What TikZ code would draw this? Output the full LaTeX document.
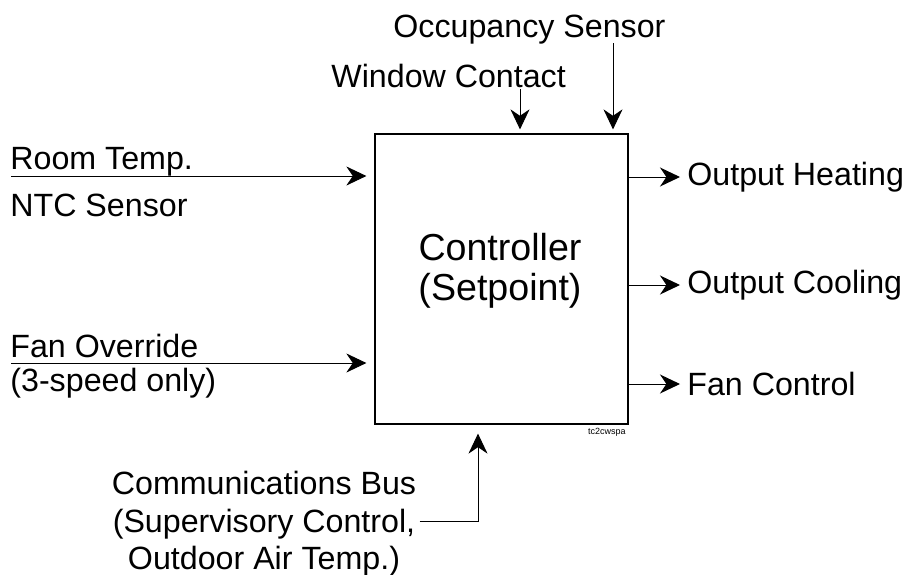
\documentclass[tikz,border=0pt]{standalone}
\usepackage{fontspec}
\setmainfont{Liberation Sans}
\usetikzlibrary{arrows.meta,positioning}

\begin{document}
\begin{tikzpicture}[x=0.5pt,y=-0.5pt,
  lbl/.style={inner sep=0pt,font=\fontsize{16.1}{18.75}\selectfont},
  sig/.style={line width=0.5pt,-{Stealth[length=10pt,width=9.5pt,inset=3.2pt]}}]
\useasboundingbox (0,0) rectangle (917,574);
% controller box
\node[draw,line width=0.6pt,minimum width=126.5pt,minimum height=145pt,inner sep=0pt] (ctrl) at (501.5,279) {};
\node[inner sep=0pt,align=center,font=\fontsize{18.8}{20}\selectfont] (ctrltext) at (500,270.5) {Controller\\(Setpoint)};
\node[inner sep=0pt,anchor=east,font=\fontsize{4.5}{5}\selectfont] (tag) at (626,432) {tc2cwspa};
% inputs on the left
\node[lbl,anchor=base west] (room) at (10,169) {Room Temp.};
\node[lbl,anchor=base west] (ntc) at (10,216) {NTC Sensor};
\node[lbl,anchor=base west] (fan) at (10,357) {Fan Override};
\node[lbl,anchor=base west] (speed) at (10,391) {(3-speed only)};
\coordinate (roomin) at (11,176);
\coordinate (fanin) at (11,363);
\draw[sig,shorten >=4pt] (roomin) -- (roomin -| ctrl.west);
\draw[sig,shorten >=4pt] (fanin) -- (fanin -| ctrl.west);
% inputs on top
\node[lbl,anchor=base west] (occ) at (393,37) {Occupancy Sensor};
\node[lbl,anchor=base west] (window) at (331,87) {Window Contact};
\coordinate (wintop) at (520,89);
\coordinate (occtop) at (613,43);
\draw[sig,shorten >=2pt] (wintop) -- (wintop |- ctrl.north);
\draw[sig,shorten >=2pt] (occtop) -- (occtop |- ctrl.north);
% outputs
\node[lbl,anchor=west] (heat) at (687,177) {Output Heating};
\node[lbl,anchor=west] (cool) at (687,285) {Output Cooling};
\node[lbl,anchor=west] (fanout) at (687,384) {Fan Control};
\foreach \o in {heat,cool,fanout}
  \draw[sig,shorten >=3.5pt] (ctrl.east |- \o.west) -- (\o.west);
% communications bus
\node[lbl,align=center] (bus) at (264,524) {Communications Bus\\(Supervisory Control,\\ Outdoor Air Temp.)};
\coordinate (busturn) at (478,521);
\draw[sig,shorten >=4.5pt] ([xshift=1.5pt]bus.east |- busturn) -- (busturn) -- (busturn |- ctrl.south);
\end{tikzpicture}
\end{document}
